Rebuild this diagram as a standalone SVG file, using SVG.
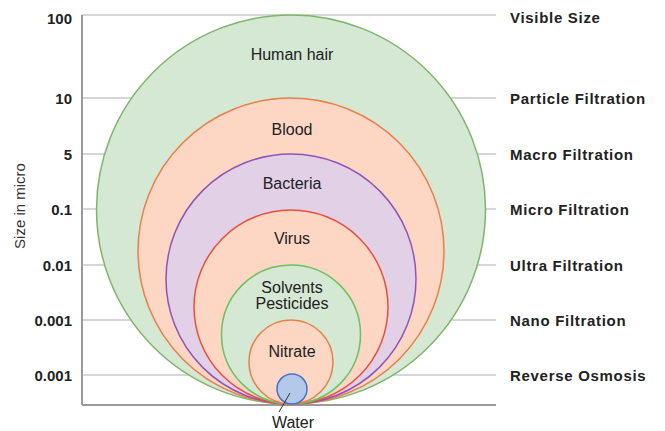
<svg xmlns="http://www.w3.org/2000/svg" width="665" height="431" viewBox="0 0 665 431">
<style>
.grid{stroke:#c9c9c9;stroke-width:1.5;fill:none}
.axis{stroke:#9a9a9a;stroke-width:2;fill:none}
.yl{font-family:"Liberation Sans",Arial,sans-serif;font-size:15px;font-weight:bold;fill:#222;text-anchor:end}
.rl{font-family:"Liberation Sans",Arial,sans-serif;font-size:15px;font-weight:bold;fill:#222;letter-spacing:0.7px}
.cl{font-family:"Liberation Sans",Arial,sans-serif;font-size:16px;fill:#222;text-anchor:middle}
.green{fill:#d5e8d4;stroke:#7fb56a;stroke-width:1.5}
.green2{fill:#d5e8d4;stroke:#6cc160;stroke-width:1.5}
.peach{fill:#fdd6c4;stroke:#e8804a;stroke-width:1.5}
.peach2{fill:#fdd6c4;stroke:#e8503c;stroke-width:1.5}
.purple{fill:#e1d0e6;stroke:#8e55b5;stroke-width:1.5}
.blue{fill:#b3c9ea;stroke:#4a72c4;stroke-width:1.5}
</style>
<g id="axes">
<line class="grid" x1="82" y1="15" x2="496" y2="15"/>
<line class="grid" x1="82" y1="98" x2="496" y2="98"/>
<line class="grid" x1="82" y1="154" x2="496" y2="154"/>
<line class="grid" x1="82" y1="209" x2="496" y2="209"/>
<line class="grid" x1="82" y1="265" x2="496" y2="265"/>
<line class="grid" x1="82" y1="320" x2="496" y2="320"/>
<line class="grid" x1="82" y1="375" x2="496" y2="375"/>
<line class="axis" x1="82" y1="15" x2="82" y2="405"/>
<line class="axis" x1="82" y1="405" x2="496" y2="405"/>
<text class="yl" x="72" y="24">100</text>
<text class="yl" x="72" y="104">10</text>
<text class="yl" x="72" y="160">5</text>
<text class="yl" x="72" y="215">0.1</text>
<text class="yl" x="72" y="271">0.01</text>
<text class="yl" x="72" y="326">0.001</text>
<text class="yl" x="72" y="381">0.001</text>
<text x="25" y="206" transform="rotate(-90 25 206)" style="font-family:'Liberation Sans',Arial,sans-serif;font-size:15px;fill:#333;text-anchor:middle">Size in micro</text>
<text class="rl" x="510" y="23">Visible Size</text>
<text class="rl" x="510" y="104">Particle Filtration</text>
<text class="rl" x="510" y="160">Macro Filtration</text>
<text class="rl" x="510" y="215">Micro Filtration</text>
<text class="rl" x="510" y="271">Ultra Filtration</text>
<text class="rl" x="510" y="326">Nano Filtration</text>
<text class="rl" x="510" y="381">Reverse Osmosis</text>
</g>
<g id="human-hair"><circle class="green" cx="291" cy="209.5" r="194.5"/><text class="cl" x="292" y="60">Human hair</text></g>
<g id="blood"><circle class="peach" cx="291" cy="251" r="153"/><text class="cl" x="292" y="135">Blood</text></g>
<g id="bacteria"><circle class="purple" cx="291" cy="279" r="125"/><text class="cl" x="292" y="189">Bacteria</text></g>
<g id="virus"><circle class="peach2" cx="291" cy="307" r="97"/><text class="cl" x="292" y="244">Virus</text></g>
<g id="solvents"><circle class="green2" cx="291" cy="334.5" r="69.5"/><text class="cl" x="292" y="293">Solvents</text><text class="cl" x="292" y="309">Pesticides</text></g>
<g id="nitrate"><circle class="peach" cx="291" cy="362" r="42"/><text class="cl" x="292" y="357">Nitrate</text></g>
<g id="water"><circle class="blue" cx="292" cy="389" r="15"/><text class="cl" x="293" y="428">Water</text></g>
<g id="connectors"><line x1="290" y1="393" x2="279" y2="412" stroke="#333" stroke-width="1"/></g>
</svg>
